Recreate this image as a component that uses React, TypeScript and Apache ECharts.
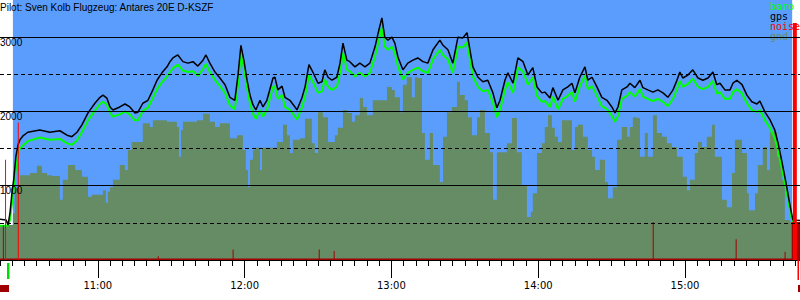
import React, { useEffect, useRef } from 'react';
import * as echarts from 'echarts';

// ---- texts ----
const titleText = 'Pilot: Sven Kolb Flugzeug: Antares 20E D-KSZF';
const legendNames = ['baro', 'gps', 'noise', 'gnd'];

// ---- colours ----
const SKY = '#5a9dfc';
const GND = '#668c66';
const BARO = '#00ff00';
const GPS = '#000000';
const NOISE = '#ff0000';
const NOISE_LOW = '#a00000';
const legendColors = [BARO, GPS, NOISE, GND];

// ---- axes (minutes since midnight, metres) ----
const axisMinTime = 600; // 10:00 (off-canvas)
const axisMaxTime = 947; // ~15:47
const firstVisibleTime = 620;
const altMax = 3500;
const gridLevels = [500, 1000, 1500, 2000, 2500, 3000];
const flightStart = 625.3;
const flightEnd = 943.8;

// ---- GPS / baro altitude (m) at clock times (min since midnight) ----
const gpsTime = [
  620.0, 622.5, 623.3, 624.1, 624.9, 625.7, 626.5, 627.4, 628.2, 629.4,
  631.4, 636.3, 640.4, 644.5, 647.4, 649.4, 651.5, 653.5, 656.0, 658.8,
  660.9, 662.1, 663.7, 665.0, 666.2, 669.0, 671.1, 673.1, 675.2, 676.4,
  678.4, 680.5, 682.5, 684.2, 686.2, 688.3, 689.5, 690.7, 692.7, 694.8,
  696.8, 698.9, 700.9, 703.0, 704.2, 705.8, 707.9, 709.9, 712.0, 714.0,
  716.0, 717.3, 718.5, 719.7, 721.0, 722.2, 723.4, 724.6, 726.3, 727.5,
  729.1, 731.6, 732.4, 733.6, 735.3, 736.5, 738.5, 740.6, 741.4, 743.4,
  744.7, 746.3, 747.9, 750.0, 751.6, 752.8, 754.1, 755.7, 757.7, 759.0,
  760.2, 761.8, 763.0, 765.1, 767.1, 769.2, 771.2, 773.3, 774.9, 776.1,
  777.3, 778.6, 780.2, 781.4, 782.7, 784.7, 786.7, 788.8, 790.8, 792.9,
  794.9, 797.0, 799.8, 801.1, 803.1, 805.1, 807.2, 809.2, 810.9, 812.1,
  813.3, 815.4, 817.4, 819.4, 821.5, 823.1, 824.4, 826.4, 827.6, 829.7,
  831.7, 833.8, 835.8, 837.8, 839.5, 841.5, 842.7, 844.8, 846.0, 848.1,
  850.1, 852.1, 853.8, 855.0, 857.0, 859.1, 860.3, 862.0, 864.0, 866.0,
  868.1, 870.1, 871.4, 872.6, 874.2, 876.3, 877.5, 879.5, 881.6, 882.8,
  884.8, 886.9, 888.9, 891.0, 893.0, 895.1, 896.7, 897.9, 899.1, 901.2,
  903.2, 905.3, 907.3, 909.4, 911.4, 913.0, 914.3, 916.3, 918.4, 919.6,
  921.2, 923.3, 925.3, 927.3, 929.4, 930.6, 932.7, 934.7, 936.7, 938.0,
  939.2, 940.4, 941.6, 942.5, 943.3, 944.1, 947.0,
];
const gpsAlt = [
  550, 540, 470, 630, 900, 1100, 1390, 1550, 1620, 1670,
  1720, 1750, 1720, 1740, 1680, 1660, 1720, 1820, 1980, 2110,
  2190, 2220, 2180, 2060, 2020, 2060, 2100, 2060, 1980, 1990,
  2110, 2150, 2290, 2420, 2520, 2600, 2670, 2720, 2760, 2670,
  2650, 2670, 2610, 2690, 2760, 2650, 2530, 2450, 2360, 2190,
  2150, 2490, 2890, 2690, 2420, 2220, 2090, 2020, 2150, 2060,
  2150, 2450, 2460, 2290, 2340, 2190, 2150, 2060, 2020, 2180,
  2330, 2630, 2530, 2380, 2400, 2560, 2460, 2420, 2460, 2650,
  2920, 2690, 2670, 2600, 2650, 2600, 2650, 2870, 3100, 3260,
  3000, 2960, 3000, 2920, 2730, 2560, 2650, 2690, 2720, 2670,
  2650, 2830, 2960, 2890, 2830, 2650, 3000, 2990, 3060, 2830,
  2600, 2460, 2400, 2420, 2250, 2050, 2150, 2420, 2520, 2380,
  2720, 2670, 2490, 2590, 2330, 2250, 2260, 2180, 2320, 2150,
  2290, 2330, 2380, 2250, 2460, 2600, 2420, 2460, 2330, 2190,
  2150, 2060, 1980, 2060, 2290, 2330, 2380, 2320, 2420, 2320,
  2290, 2260, 2290, 2250, 2190, 2290, 2420, 2530, 2450, 2490,
  2560, 2450, 2420, 2450, 2530, 2360, 2380, 2290, 2290, 2380,
  2420, 2360, 2220, 2130, 2100, 2140, 1990, 1890, 1750, 1580,
  1390, 1190, 980, 810, 670, 540, 530,
];
const baroAlt = [
  460, 460, 460, 540, 760, 960, 1230, 1430, 1500, 1540,
  1600, 1650, 1620, 1630, 1570, 1550, 1610, 1720, 1880, 2010,
  2100, 2130, 2090, 1980, 1930, 1960, 2000, 1960, 1880, 1880,
  2010, 2050, 2180, 2300, 2390, 2470, 2530, 2580, 2630, 2550,
  2530, 2540, 2480, 2570, 2640, 2530, 2420, 2340, 2250, 2080,
  2030, 2360, 2780, 2580, 2310, 2110, 1970, 1900, 2020, 1930,
  2020, 2330, 2340, 2170, 2220, 2060, 2020, 1930, 1890, 2050,
  2200, 2490, 2400, 2250, 2270, 2430, 2330, 2290, 2330, 2520,
  2790, 2560, 2540, 2470, 2520, 2470, 2520, 2740, 2960, 3130,
  2870, 2830, 2870, 2790, 2600, 2430, 2520, 2560, 2590, 2540,
  2520, 2700, 2830, 2760, 2700, 2520, 2870, 2860, 2930, 2700,
  2470, 2330, 2270, 2290, 2120, 1920, 2020, 2290, 2390, 2250,
  2590, 2540, 2360, 2460, 2210, 2130, 2140, 2060, 2200, 2030,
  2170, 2210, 2260, 2130, 2340, 2480, 2300, 2340, 2210, 2070,
  2030, 1940, 1860, 1940, 2170, 2210, 2260, 2200, 2300, 2200,
  2170, 2140, 2170, 2130, 2070, 2170, 2300, 2410, 2330, 2370,
  2440, 2330, 2300, 2330, 2410, 2240, 2260, 2170, 2170, 2260,
  2300, 2240, 2110, 2020, 1990, 2020, 1880, 1780, 1640, 1480,
  1290, 1100, 900, 740, 610, 470, 460,
];

// ---- ground elevation (m), step values ----
const gndTime = [
  620.0, 625.3, 626.1, 628.2, 632.3, 635.1, 637.2, 639.2, 641.3, 644.5,
  645.7, 647.8, 650.7, 653.5, 656.0, 657.6, 662.1, 663.3, 664.1, 665.0,
  666.2, 669.0, 671.1, 672.3, 673.9, 678.4, 681.3, 682.5, 688.3, 692.3,
  693.2, 694.0, 694.8, 700.5, 703.0, 705.8, 707.9, 709.9, 714.0, 716.9,
  719.3, 720.5, 721.4, 722.2, 723.4, 724.2, 726.3, 727.1, 733.2, 735.7,
  737.3, 738.5, 739.7, 742.6, 744.7, 747.5, 748.7, 750.0, 752.0, 754.1,
  756.9, 758.1, 760.2, 761.8, 763.9, 765.1, 767.1, 768.4, 770.0, 772.4,
  778.2, 780.2, 781.4, 783.5, 784.7, 786.3, 788.4, 789.6, 790.8, 792.5,
  793.7, 795.7, 797.0, 799.8, 801.1, 802.7, 804.7, 806.8, 808.0, 810.0,
  811.3, 812.9, 815.0, 816.2, 818.2, 820.3, 821.5, 823.1, 827.2, 829.3,
  831.3, 833.3, 835.4, 837.0, 837.8, 839.5, 841.5, 842.7, 844.0, 845.6,
  846.8, 848.1, 849.7, 853.8, 855.0, 856.2, 858.3, 860.3, 862.0, 863.2,
  865.2, 867.3, 868.5, 870.5, 872.2, 874.2, 876.3, 877.5, 878.7, 880.3,
  881.6, 883.6, 884.8, 886.9, 888.5, 890.6, 892.6, 894.6, 896.7, 899.1,
  900.8, 902.0, 904.0, 905.3, 906.9, 908.9, 911.0, 912.2, 915.1, 917.1,
  919.2, 920.4, 923.3, 925.3, 926.1, 928.6, 929.8, 931.8, 933.5, 934.7,
  937.6, 939.6, 940.8, 942.9, 947.0,
];
const gndAlt = [
  470, 630, 970, 1140, 1170, 1270, 1170, 1140, 1130, 810,
  1080, 1280, 1210, 1120, 850, 880, 940, 770, 920, 980,
  1080, 1280, 1210, 1480, 1590, 1840, 1790, 1880, 1860, 1790,
  1390, 1750, 1860, 1880, 1970, 1860, 1790, 1840, 1640, 1680,
  1480, 1210, 980, 1350, 1480, 1510, 1210, 1510, 1590, 1820,
  1680, 1440, 1620, 1640, 1900, 1570, 1440, 1990, 1920, 1590,
  1680, 1780, 2020, 1980, 1860, 1950, 2180, 2060, 1950, 2150,
  2330, 2290, 2190, 1990, 2360, 2460, 2190, 2460, 2450, 1710,
  1350, 1710, 1280, 1050, 1660, 1990, 2060, 2400, 2220, 2150,
  1920, 1680, 1920, 2020, 1710, 1450, 810, 1450, 1570, 1910,
  1450, 1010, 580, 650, 900, 1440, 1570, 1790, 1950, 1780,
  1660, 1590, 1880, 1480, 1790, 1820, 1660, 1480, 1390, 1210,
  1350, 1050, 830, 980, 1620, 1790, 1660, 1790, 1920, 1910,
  1390, 1710, 1390, 1950, 1710, 1660, 1570, 1520, 1390, 1120,
  940, 1080, 1440, 1590, 1520, 1660, 1820, 1390, 810, 710,
  1170, 1620, 1440, 900, 670, 900, 1280, 1520, 1210, 1720,
  1390, 1080, 540, 510, 510,
];

// ---- noise level (drawn on the altitude scale) ----
const noiseLowTime = [620.0, 621.2, 621.6, 684.5, 684.9, 715.1, 715.5, 750.3, 750.7, 756.4, 756.8, 886.8, 887.2, 920.7, 921.1, 940.7, 941.1, 943.6, 947.0];
const noiseLowVal = [20, 470, 20, 50, 20, 140, 20, 140, 20, 120, 20, 510, 20, 280, 20, 110, 20, 510, 510];
const noiseHighTime = [622.1, 622.5, 627.3, 627.7, 944.1, 945.7, 947.0];
const noiseHighVal = [1350, 0, 1850, 0, 3190, 0, 0];

const zip = (a: number[], b: number[]) => a.map((t, i) => [t, b[i]]);
const pad = (n: number) => (n < 10 ? '0' + n : String(n));

export default function App() {
  const ref = useRef<HTMLDivElement>(null);

  useEffect(() => {
    if (!ref.current) return;
    const chart = echarts.init(ref.current, undefined, { renderer: 'svg' });

    const option: any = {
      animation: false,
      backgroundColor: '#ffffff',
      textStyle: { fontFamily: 'Liberation Sans' },
      grid: { left: -49, right: 0, top: 0, bottom: 40, containLabel: false, outerBoundsMode: 'none' },
      xAxis: {
        type: 'value',
        min: axisMinTime,
        max: axisMaxTime,
        interval: 60,
        z: 7,
        axisLine: { show: true, onZero: false, lineStyle: { color: '#000', width: 1 } },
        axisTick: { show: true, length: 18, lineStyle: { color: '#000', width: 1 } },
        minorTick: { show: true, splitNumber: 12, length: 6, lineStyle: { color: '#000', width: 1 } },
        splitLine: { show: false },
        minorSplitLine: { show: false },
        axisLabel: {
          margin: 20,
          color: '#000',
          fontFamily: 'DejaVu Sans',
          fontSize: 10,
          showMinLabel: false,
          showMaxLabel: false,
          formatter: (v: number) =>
            v >= firstVisibleTime && v % 60 === 0 ? `${Math.floor(v / 60)}:${pad(v % 60)}` : '',
        },
      },
      yAxis: {
        type: 'value',
        min: 0,
        max: altMax,
        interval: 1000,
        offset: -49,
        z: 7,
        axisLine: { show: false },
        axisTick: { show: false },
        splitLine: { show: false },
        axisLabel: {
          inside: true,
          margin: 0,
          verticalAlign: 'top',
          color: '#000',
          fontFamily: 'Liberation Sans',
          fontSize: 10,
          formatter: (v: number) => (v > 0 && v % 1000 === 0 ? String(v) : ''),
        },
      },
      graphic: [
        {
          type: 'text', x: 0, y: 2, z: 10,
          style: { text: titleText, fill: '#000', fontFamily: 'Liberation Sans', fontSize: 10, verticalAlign: 'top' },
        },
        ...legendNames.map((name, i) => ({
          type: 'text', x: 770, y: 6.5 + i * 10, z: 4,
          style: { text: name, fill: legendColors[i], fontFamily: 'DejaVu Sans Mono', fontSize: 10, verticalAlign: 'middle' },
        })),
        { type: 'rect', z: 10, shape: { x: 7, y: 263, width: 2.5, height: 16 }, style: { fill: '#00dd00' } },
        { type: 'rect', z: 10, shape: { x: 0, y: 285, width: 9, height: 7 }, style: { fill: NOISE_LOW } },
        { type: 'rect', z: 10, shape: { x: 797.5, y: 260, width: 1.5, height: 20 }, style: { fill: NOISE } },
        { type: 'rect', z: 10, shape: { x: 798, y: 285, width: 2, height: 7 }, style: { fill: NOISE_LOW } },
      ],
      series: [
        {
          name: 'sky', type: 'line', data: [], z: 1, silent: true,
          markArea: {
            silent: true, z: 1,
            itemStyle: { color: SKY, opacity: 1 },
            data: [[{ xAxis: flightStart }, { xAxis: flightEnd }]],
          },
        },
        {
          name: 'gnd', type: 'line', step: 'end', z: 2, silent: true,
          data: zip(gndTime, gndAlt),
          symbol: 'none', showSymbol: false,
          lineStyle: { width: 0 },
          areaStyle: { color: GND, opacity: 1 },
        },
        {
          name: 'baro', type: 'line', z: 3, silent: true,
          data: zip(gpsTime, baroAlt),
          symbol: 'none', showSymbol: false,
          lineStyle: { color: BARO, width: 2 },
        },
        {
          name: 'gps', type: 'line', z: 4, silent: true,
          data: zip(gpsTime, gpsAlt),
          symbol: 'none', showSymbol: false,
          lineStyle: { color: GPS, width: 1.5 },
        },
        {
          name: 'noiseLow', type: 'line', step: 'end', z: 5, silent: true,
          data: zip(noiseLowTime, noiseLowVal),
          symbol: 'none', showSymbol: false,
          lineStyle: { width: 0 },
          areaStyle: { color: NOISE_LOW, opacity: 1 },
        },
        {
          name: 'noise', type: 'line', step: 'end', z: 5, silent: true,
          data: zip(noiseHighTime, noiseHighVal),
          symbol: 'none', showSymbol: false,
          lineStyle: { width: 0 },
          areaStyle: { color: NOISE, opacity: 1 },
        },
        {
          name: 'grid', type: 'line', data: [], z: 6, silent: true,
          markLine: {
            silent: true, z: 6,
            symbol: ['none', 'none'],
            label: { show: false },
            data: gridLevels.map((v) => ({
              yAxis: v,
              lineStyle: { color: '#000', width: 1, type: v % 1000 === 0 ? 'solid' : [4, 3] },
            })),
          },
        },
      ],
    };

    chart.setOption(option);
    return () => chart.dispose();
  }, []);

  return (
    <div
      ref={ref}
      style={{ position: 'fixed', left: 0, top: 0, width: 800, height: 300 }}
    />
  );
}
